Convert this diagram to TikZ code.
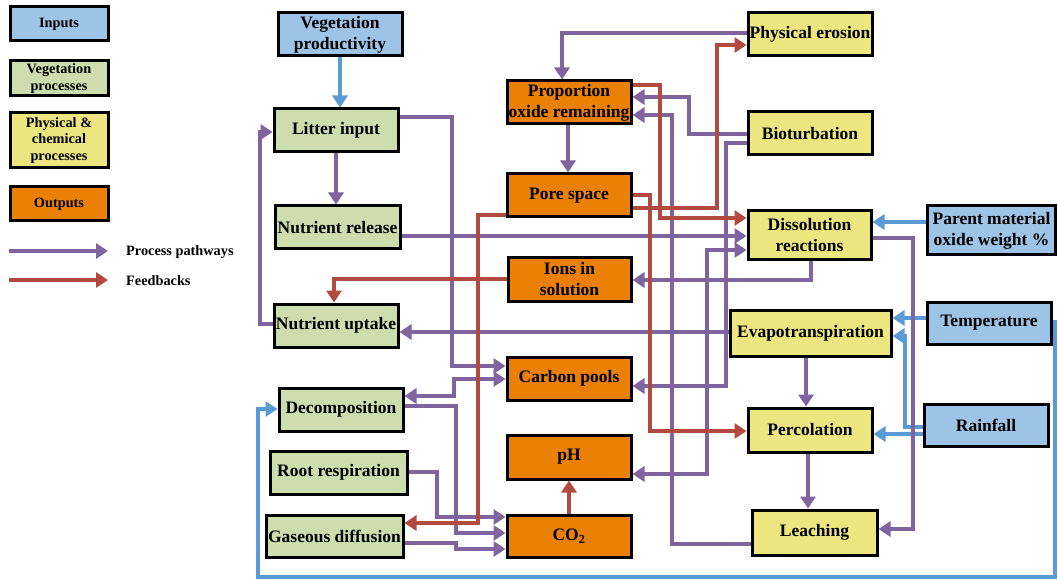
\documentclass[tikz,border=0pt]{standalone}
\usepackage{fontspec}
\setmainfont{Liberation Serif}
\usetikzlibrary{arrows.meta}
\definecolor{cinp}{RGB}{157,195,230}
\definecolor{cveg}{RGB}{205,221,174}
\definecolor{cphy}{RGB}{236,230,128}
\definecolor{cout}{RGB}{234,128,5}
\definecolor{lpur}{RGB}{128,100,160}
\definecolor{lred}{RGB}{178,74,64}
\definecolor{lblu}{RGB}{91,155,213}
\tikzset{
  box/.style={draw=black, line width=3pt, inner sep=0pt, align=center,
    font=\bfseries\fontsize{17.5}{21}\selectfont},
  lbox/.style={box, font=\bfseries\fontsize{14.3}{16.3}\selectfont,
    minimum width=98, minimum height=34},
  inb/.style={box, fill=cinp},
  veb/.style={box, fill=cveg},
  phb/.style={box, fill=cphy},
  oub/.style={box, fill=cout},
  tip/.tip={Triangle[length=12pt,width=15pt]},
  conn/.style={line width=3.3pt, -tip},
  pp/.style={conn, draw=lpur},
  rd/.style={conn, draw=lred},
  bl/.style={conn, draw=lblu},
  ltext/.style={anchor=west, inner sep=0pt, font=\bfseries\fontsize{14.3}{16}\selectfont},
}
\begin{document}
\begin{tikzpicture}[x=1pt,y=-1pt]
\useasboundingbox (0,0) rectangle (1058,580);
% legend
\node[lbox, fill=cinp] (linp) at (59,24) {Inputs};
\node[lbox, fill=cveg, minimum height=35] (lveg) at (59,78.5) {Vegetation\\processes};
\node[lbox, fill=cphy, minimum height=55] (lphy) at (59,140.5) {Physical \&\\chemical\\processes};
\node[lbox, fill=cout] (lout) at (59,204) {Outputs};
\coordinate (lpa) at (9,251);
\coordinate (lpb) at (108,251);
\coordinate (lra) at (9,280);
\coordinate (lrb) at (108,280);
\draw[pp] (lpa) -- (lpb);
\draw[rd] (lra) -- (lrb);
\node[ltext] (lpt) at (126,252) {Process pathways};
\node[ltext] (lrt) at (126,281) {Feedbacks};
% nodes
\node[inb, minimum width=124, minimum height=43] (vegprod) at (340,34.5) {Vegetation\\productivity};
\node[veb, minimum width=124, minimum height=43] (litter) at (336,130.5) {Litter input};
\node[veb, minimum width=125, minimum height=43] (nrel) at (337.5,227.5) {Nutrient release};
\node[veb, minimum width=124, minimum height=43] (nupt) at (336,325.5) {Nutrient uptake};
\node[veb, minimum width=124, minimum height=43] (decomp) at (341,409.5) {Decomposition};
\node[veb, minimum width=137, minimum height=43] (rootresp) at (338.5,472.5) {Root respiration};
\node[veb, minimum width=137, minimum height=42] (gasdiff) at (334.5,536) {Gaseous diffusion};
\node[oub, minimum width=124, minimum height=43] (propox) at (569,102.5) {Proportion\\oxide remaining};
\node[oub, minimum width=124, minimum height=43] (pore) at (569,195.5) {Pore space};
\node[oub, minimum width=123, minimum height=43] (ions) at (569.5,279.5) {Ions in\\solution};
\node[oub, minimum width=124, minimum height=43] (carbon) at (569,378.5) {Carbon pools};
\node[oub, minimum width=124, minimum height=44] (ph) at (569,457) {pH};
\node[oub, minimum width=124, minimum height=42] (co2) at (569,536) {CO\textsubscript{2}};
\node[phb, minimum width=124, minimum height=43] (erosion) at (810,34.5) {Physical erosion};
\node[phb, minimum width=124, minimum height=43] (biot) at (810,133.5) {Bioturbation};
\node[phb, minimum width=123, minimum height=49] (diss) at (809.5,235.5) {Dissolution\\reactions};
\node[inb, minimum width=128, minimum height=49] (parent) at (991.5,230.5) {Parent material\\oxide weight \%};
\node[phb, minimum width=161, minimum height=46] (evap) at (810.5,333) {Evapotranspiration};
\node[inb, minimum width=124, minimum height=42] (temp) at (989,323) {Temperature};
\node[phb, minimum width=124, minimum height=44] (perc) at (810,430) {Percolation};
\node[inb, minimum width=124, minimum height=42] (rain) at (986,425) {Rainfall};
\node[phb, minimum width=125, minimum height=45] (leach) at (814.5,532.5) {Leaching};
% blue connectors
\draw[bl] (vegprod.south) -- (vegprod.south |- litter.north);
\draw[bl] (parent.west |- 0,222) -- (diss.east |- 0,222);
\draw[bl] (temp.west |- 0,318) -- (evap.east |- 0,318);
\draw[bl] (rain.west |- 0,427) -- (905,427) -- (905,336) -- (evap.east |- 0,336);
\draw[bl] (rain.west |- 0,434) -- (perc.east |- 0,434);
\draw[bl] (temp.east |- 0,322) -- (1055,322) -- (1055,577) -- (258,577) -- (258,409) -- (decomp.west |- 0,409);
% purple connectors
\draw[pp] (litter.south) -- (litter.south |- nrel.north);
\draw[pp] (litter.east |- 0,117) -- (452,117) -- (452,366) -- (carbon.west |- 0,366);
\draw[pp] (nupt.west |- 0,324) -- (260,324) -- (260,132) -- (litter.west |- 0,132);
\draw[pp] (nrel.east |- 0,236) -- (diss.west |- 0,236);
\draw[pp, tip-tip] (ph.east |- 0,474) -- (707,474) -- (707,250) -- (diss.west |- 0,250);
\draw[pp] (diss.south -| 811,0) -- (811,280) -- (ions.east |- 0,280);
\draw[pp] (diss.east |- 0,238) -- (913,238) -- (913,529) -- (leach.east |- 0,529);
\draw[pp] (erosion.west |- 0,33) -- (562,33) -- (propox.north -| 562,0);
\draw[pp] (biot.west |- 0,134) -- (689,134) -- (689,97) -- (propox.east |- 0,97);
\draw[pp] (biot.west |- 0,143) -- (726,143) -- (726,386) -- (carbon.east |- 0,386);
\draw[pp] (leach.west |- 0,544) -- (672,544) -- (672,115) -- (propox.east |- 0,115);
\draw[pp] (propox.south -| 568,0) -- (pore.north -| 568,0);
\draw[pp] (evap.west |- 0,332) -- (nupt.east |- 0,332);
\draw[pp] (evap.south -| 806,0) -- (perc.north -| 806,0);
\draw[pp] (perc.south -| 808,0) -- (leach.north -| 808,0);
\draw[pp, tip-tip] (decomp.east |- 0,396) -- (454,396) -- (454,379) -- (carbon.west |- 0,379);
\draw[pp] (decomp.east |- 0,406) -- (456,406) -- (456,533) -- (co2.west |- 0,533);
\draw[pp] (rootresp.east |- 0,472) -- (437,472) -- (437,517) -- (co2.west |- 0,517);
\draw[pp] (gasdiff.east |- 0,543) -- (456,543) -- (456,549) -- (co2.west |- 0,549);
% red connectors
\draw[rd] (co2.north) -- (ph.south);
\draw[rd] (pore.west |- 0,215) -- (478,215) -- (478,523) -- (gasdiff.east |- 0,523);
\draw[rd] (ions.west |- 0,279) -- (334,279) -- (nupt.north -| 334,0);
\draw[rd] (propox.east |- 0,85) -- (660,85) -- (660,218) -- (diss.west |- 0,218);
\draw[rd] (pore.east |- 0,195) -- (650,195) -- (650,431) -- (perc.west |- 0,431);
\draw[rd] (pore.east |- 0,208) -- (717,208) -- (717,45) -- (erosion.west |- 0,45);
\end{tikzpicture}
\end{document}
